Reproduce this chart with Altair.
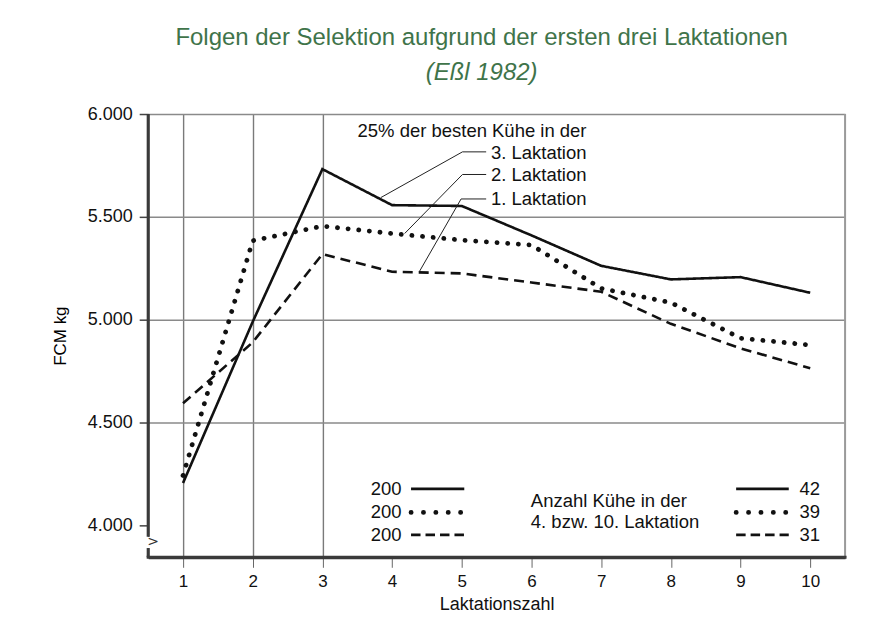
import altair as alt
import pandas as pd

# ---------------- data ----------------
laktation = [1, 2, 3, 4, 5, 6, 7, 8, 9, 10]
fcm_sel3 = [4206, 4990, 5732, 5557, 5553, 5410, 5262, 5196, 5207, 5131]   # solid
fcm_sel2 = [4243, 5384, 5455, 5419, 5387, 5363, 5152, 5083, 4910, 4877]   # dotted
fcm_sel1 = [4594, 4890, 5319, 5233, 5225, 5181, 5136, 4980, 4861, 4764]   # dashed
series_names = ["3. Laktation", "2. Laktation", "1. Laktation"]
n_start = ["200", "200", "200"]
n_end = ["42", "39", "31"]
y_tick_values = [4000, 4500, 5000, 5500, 6000]
x_tick_values = laktation
head_text = "25% der besten Kühe in der"
legend_mid_text = ["Anzahl Kühe in der", "4. bzw. 10. Laktation"]
title_text = "Folgen der Selektion aufgrund der ersten drei Laktationen"
subtitle_text = "(Eßl 1982)"

# ---------------- layout / style constants ----------------
FONT = "Liberation Sans, Arial, Helvetica, sans-serif"
INK = "#111111"
GREEN = "#3f744a"
AXIS_DARK = "#3a3a3a"
X_DOMAIN = [0.5, 10.5]
Y_DOMAIN = [3845, 6000]
TXT = 18.5

styles = {
    "3. Laktation": dict(strokeDash=[1, 0], strokeWidth=2.6, strokeCap="butt"),
    "2. Laktation": dict(strokeDash=[0.1, 10.6], strokeWidth=4.8, strokeCap="round"),
    "1. Laktation": dict(strokeDash=[10, 6], strokeWidth=2.6, strokeCap="butt"),
}
legend_styles = {
    "3. Laktation": dict(strokeDash=[1, 0], strokeWidth=2.8, strokeCap="butt"),
    "2. Laktation": dict(strokeDash=[0.1, 12.3], strokeWidth=4.8, strokeCap="round"),
    "1. Laktation": dict(strokeDash=[9.5, 5], strokeWidth=2.8, strokeCap="butt"),
}

# annotation layout (data coordinates)
ann_right_x = 6.79
ann_rows_y = [5917, 5808, 5702, 5587]
leader_pts = {
    "3. Laktation": [(5.35, 5816), (5.01, 5816), (3.84, 5594)],
    "2. Laktation": [(5.35, 5706), (5.01, 5706), (4.18, 5419)],
    "1. Laktation": [(5.35, 5587), (4.99, 5587), (4.39, 5233)],
}
legend_rows_y = [4178, 4063, 3954]
legend_mid_y = [4121, 4015]
left_num_x = 4.137
left_line = (4.272, 5.036)
right_line = (8.937, 9.692)
right_num_x = 9.845
mid_text_x = 5.991

# ---------------- tables ----------------
series_values = {"3. Laktation": fcm_sel3, "2. Laktation": fcm_sel2, "1. Laktation": fcm_sel1}
lines_df = pd.DataFrame(
    [{"series": s, "x": xv, "y": yv} for s in series_names for xv, yv in zip(laktation, series_values[s])]
)
leader_df = pd.DataFrame(
    [{"series": s, "order": i, "x": p[0], "y": p[1]} for s in series_names for i, p in enumerate(leader_pts[s])]
)
ann_df = pd.DataFrame({"text": [head_text] + series_names, "x": ann_right_x, "y": ann_rows_y})

legend_rule_rows = []
for i, s in enumerate(series_names):
    legend_rule_rows.append({"series": s, "x": left_line[0], "x2": left_line[1], "y": legend_rows_y[i]})
    legend_rule_rows.append({"series": s, "x": right_line[0], "x2": right_line[1], "y": legend_rows_y[i]})
legend_rule_df = pd.DataFrame(legend_rule_rows)
left_num_df = pd.DataFrame({"text": n_start, "x": left_num_x, "y": legend_rows_y})
right_num_df = pd.DataFrame({"text": n_end, "x": right_num_x, "y": legend_rows_y})
mid_df = pd.DataFrame({"text": legend_mid_text, "x": mid_text_x, "y": legend_mid_y})
frame_df = pd.DataFrame({"x": [X_DOMAIN[1]], "y": [Y_DOMAIN[0]], "y2": [Y_DOMAIN[1]]})
# left axis line with a break near the bottom (two pieces) and the break chevron
axis_seg_df = pd.DataFrame({"x": [X_DOMAIN[0], X_DOMAIN[0]], "y": [Y_DOMAIN[0], 3945.0], "y2": [3890.0, Y_DOMAIN[1]]})
bottom_axis_df = pd.DataFrame({"x": [X_DOMAIN[0]], "x2": [X_DOMAIN[1]], "y": [Y_DOMAIN[0]]})
break_df = pd.DataFrame({"x": [X_DOMAIN[0]], "y": [3918], "y_top": [3945.0], "y_bot": [3890.0], "text": [">"]})

# ---------------- scales / axes ----------------
x_axis = alt.Axis(
    values=x_tick_values, format="d", title="Laktationszahl",
    domain=True, domainColor=AXIS_DARK, domainWidth=3,
    labelFont=FONT, labelFontSize=17, labelColor=INK, labelPadding=6,
    titleFont=FONT, titleFontSize=18, titleFontWeight="normal", titleColor=INK, titlePadding=6,
    tickSize=10, tickColor="#666666", tickWidth=1,
    grid=True, gridColor="#7a7a7a", gridWidth=1.4,
    gridOpacity={"expr": "datum.value <= 3 ? 1 : 0"},
)
y_axis = alt.Axis(
    values=y_tick_values, title="FCM kg",
    domain=True, domainColor=AXIS_DARK, domainWidth=1.5,
    labelExpr="replace(format(datum.value, ','), ',', '.')",
    labelFont=FONT, labelFontSize=18, labelColor=INK, labelPadding=7,
    titleFont=FONT, titleFontSize=17, titleFontWeight="normal", titleColor="#000000", titlePadding=18,
    tickSize=9, tickColor="#444444", tickWidth=1.5,
    grid=True, gridColor="#8a8a8a", gridWidth=1.5,
    gridOpacity={"expr": "datum.value == 4000 ? 0 : 1"},
)
xs = alt.Scale(domain=X_DOMAIN, nice=False, zero=False)
ys = alt.Scale(domain=Y_DOMAIN, nice=False, zero=False)
X = alt.X("x:Q", scale=xs, axis=x_axis)
Y = alt.Y("y:Q", scale=ys, axis=y_axis)

layers = []
# right frame line of the plot area
layers.append(
    alt.Chart(frame_df).mark_rule(color="#9a9a9a", strokeWidth=2).encode(x=X, y=Y, y2="y2:Q")
)
# gap in the y axis line for the axis break
layers.append(
    alt.Chart(break_df).mark_rule(color="white", strokeWidth=5).encode(
        x=X, y=alt.Y("y_top:Q", scale=ys, axis=y_axis), y2="y_bot:Q"
    )
)
# dark axis lines (left with break, bottom)
layers.append(
    alt.Chart(axis_seg_df).mark_rule(color=AXIS_DARK, strokeWidth=3).encode(x=X, y=Y, y2="y2:Q")
)
layers.append(
    alt.Chart(bottom_axis_df).mark_rule(color=AXIS_DARK, strokeWidth=3, strokeCap="square").encode(x=X, x2="x2:Q", y=Y)
)
for s in series_names:
    layers.append(
        alt.Chart(lines_df[lines_df.series == s]).mark_line(color=INK, **styles[s]).encode(x=X, y=Y)
    )

layers.append(
    alt.Chart(leader_df).mark_line(color="#222222", strokeWidth=1).encode(
        x=X, y=Y, detail="series:N", order="order:Q"
    )
)
layers.append(
    alt.Chart(ann_df).mark_text(align="right", baseline="middle", font=FONT, fontSize=TXT, color=INK).encode(
        x=X, y=Y, text="text:N"
    )
)
for s in series_names:
    layers.append(
        alt.Chart(legend_rule_df[legend_rule_df.series == s]).mark_rule(color=INK, **legend_styles[s]).encode(
            x=X, x2="x2:Q", y=Y
        )
    )
layers.append(
    alt.Chart(left_num_df).mark_text(align="right", baseline="middle", font=FONT, fontSize=TXT, color=INK).encode(
        x=X, y=Y, text="text:N"
    )
)
layers.append(
    alt.Chart(right_num_df).mark_text(align="left", baseline="middle", font=FONT, fontSize=TXT, color=INK).encode(
        x=X, y=Y, text="text:N"
    )
)
layers.append(
    alt.Chart(mid_df).mark_text(align="left", baseline="middle", font=FONT, fontSize=TXT, color=INK).encode(
        x=X, y=Y, text="text:N"
    )
)
layers.append(
    alt.Chart(break_df).mark_text(align="left", baseline="middle", font="DejaVu Sans", fontSize=14,
                                  color="#333333", dx=-1).encode(x=X, y=Y, text="text:N")
)

chart = alt.layer(*layers).properties(
    width=698,
    height=444,
    autosize=alt.AutoSizeParams(type="none"),
    padding={"left": 140.4, "top": 105.7, "right": 40, "bottom": 60},
    title=alt.TitleParams(
        text=title_text, subtitle=subtitle_text,
        font=FONT, fontSize=24, fontWeight="normal", color=GREEN,
        subtitleFont=FONT, subtitleFontSize=24, subtitleFontStyle="italic", subtitleColor=GREEN,
        subtitlePadding=11, offset=20, anchor="middle", frame="group", dx=-15,
    ),
).configure_view(strokeWidth=0).configure(background="white")

chart.save("out.html", embed_options={"renderer": "svg", "actions": False})
